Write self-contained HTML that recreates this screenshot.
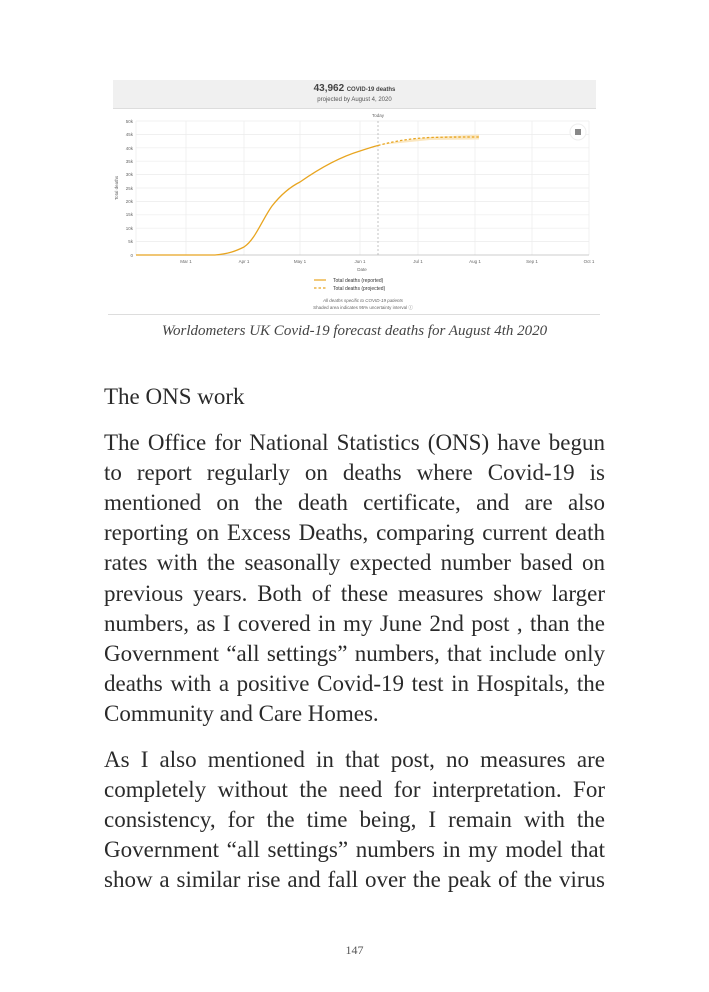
<!DOCTYPE html>
<html><head><meta charset="utf-8"><style>
body{margin:0;width:709px;height:992px;background:#fff;position:relative;overflow:hidden}
.t{position:absolute;left:104px;width:501px;font-family:"Liberation Serif","Times New Roman",serif;font-size:23px;color:#2a2a2a;line-height:30px;white-space:nowrap}
.j{text-align:justify;text-align-last:justify;white-space:normal}
.s{font-family:"Liberation Sans",sans-serif;position:absolute;white-space:nowrap}
</style></head><body>
<div style="position:absolute;left:113px;top:80px;width:483px;height:28px;background:#f0f0f0;border-bottom:1px solid #ddd"></div>
<div class="s" style="left:113px;width:483px;top:83px;text-align:center;font-size:9px;color:#444"><b style="font-size:10px">43,962</b> <b style="font-size:6px">COVID-19 deaths</b></div>
<div class="s" style="left:113px;width:483px;top:97px;text-align:center;font-size:6px;color:#555">projected by August 4, 2020</div>
<svg style="position:absolute;left:0;top:0" width="709" height="330">
<g stroke="#ececec" stroke-width="0.7">
<line x1="136" y1="121" x2="589" y2="121"/><line x1="136" y1="134.4" x2="589" y2="134.4"/><line x1="136" y1="147.8" x2="589" y2="147.8"/><line x1="136" y1="161.2" x2="589" y2="161.2"/><line x1="136" y1="174.6" x2="589" y2="174.6"/><line x1="136" y1="188" x2="589" y2="188"/><line x1="136" y1="201.4" x2="589" y2="201.4"/><line x1="136" y1="214.8" x2="589" y2="214.8"/><line x1="136" y1="228.2" x2="589" y2="228.2"/><line x1="136" y1="241.6" x2="589" y2="241.6"/>
<line x1="186" y1="121" x2="186" y2="255"/><line x1="244" y1="121" x2="244" y2="255"/><line x1="300" y1="121" x2="300" y2="255"/><line x1="360" y1="121" x2="360" y2="255"/><line x1="418" y1="121" x2="418" y2="255"/><line x1="475" y1="121" x2="475" y2="255"/><line x1="532" y1="121" x2="532" y2="255"/><line x1="589" y1="121" x2="589" y2="255"/><line x1="136" y1="121" x2="136" y2="255"/>
</g>
<line x1="136" y1="255" x2="589" y2="255" stroke="#bbb" stroke-width="0.8"/>
<line x1="378" y1="121" x2="378" y2="255" stroke="#aaa" stroke-width="0.7" stroke-dasharray="2,2"/>
<path d="M378 145 L400 141 L430 137 L479 134.5 L479 139.5 L430 140 L400 143 Z" fill="#fbe7c0"/>
<path d="M136 255 L215 255 C228 254 236 251 244 247 C255 240 262 220 272 206 C283 192 292 186 300 182 C320 168 340 157 360 151 C366 149 372 147 378 145.5" fill="none" stroke="#e8a520" stroke-width="1.3"/>
<path d="M378 145.5 C395 141 410 138.5 430 137.5 C450 137 465 137 479 137" fill="none" stroke="#e8a520" stroke-width="1.3" stroke-dasharray="2.5,2"/>
<circle cx="578" cy="132" r="8" fill="#fff" stroke="#eee"/><rect x="575" y="129" width="6" height="6" fill="#888"/>
<g font-family="Liberation Sans" font-size="4.5" fill="#666" text-anchor="end">
<text x="133" y="123">50k</text><text x="133" y="136">45k</text><text x="133" y="150">40k</text><text x="133" y="163">35k</text><text x="133" y="176">30k</text><text x="133" y="190">25k</text><text x="133" y="203">20k</text><text x="133" y="216">15k</text><text x="133" y="230">10k</text><text x="133" y="243">5k</text><text x="133" y="257">0</text>
</g>
<g font-family="Liberation Sans" font-size="4.5" fill="#666" text-anchor="middle">
<text x="186" y="263">Mar 1</text><text x="244" y="263">Apr 1</text><text x="300" y="263">May 1</text><text x="360" y="263">Jun 1</text><text x="418" y="263">Jul 1</text><text x="475" y="263">Aug 1</text><text x="532" y="263">Sep 1</text><text x="589" y="263">Oct 1</text>
<text x="362" y="271">Date</text><text x="378" y="117">Today</text>
<text x="363" y="302" font-style="italic">All deaths specific to COVID-19 patients</text>
<text x="363" y="309">Shaded area indicates 95% uncertainty interval ⓘ</text>
</g>
<text x="118" y="188" font-family="Liberation Sans" font-size="4.5" fill="#666" transform="rotate(-90 118 188)" text-anchor="middle">Total deaths</text>
<line x1="314" y1="280" x2="326" y2="280" stroke="#e8a520" stroke-width="1.2"/>
<line x1="314" y1="288" x2="326" y2="288" stroke="#e8a520" stroke-width="1.2" stroke-dasharray="2.5,2"/>
<g font-family="Liberation Sans" font-size="5" fill="#333"><text x="333" y="282">Total deaths (reported)</text><text x="333" y="290">Total deaths (projected)</text></g>
<line x1="108" y1="314.5" x2="600" y2="314.5" stroke="#ddd" stroke-width="1"/>
</svg>
<div style="position:absolute;left:0;width:709px;top:323px;text-align:center;font-family:'Liberation Serif','Times New Roman',serif;font-style:italic;font-size:15px;color:#444">Worldometers UK Covid-19 forecast deaths for August 4th 2020</div>
<div class="t" style="top:382px">The ONS work</div>
<div class="t j" style="top:428px">The Office for National Statistics (ONS) have begun</div>
<div class="t j" style="top:458px">to report regularly on deaths where Covid-19 is</div>
<div class="t j" style="top:488px">mentioned on the death certificate, and are also</div>
<div class="t j" style="top:518px">reporting on Excess Deaths, comparing current death</div>
<div class="t j" style="top:548px">rates with the seasonally expected number based on</div>
<div class="t j" style="top:579px">previous years. Both of these measures show larger</div>
<div class="t j" style="top:609px">numbers, as I covered in my June 2nd post , than the</div>
<div class="t j" style="top:639px">Government “all settings” numbers, that include only</div>
<div class="t j" style="top:669px">deaths with a positive Covid-19 test in Hospitals, the</div>
<div class="t" style="top:699px">Community and Care Homes.</div>
<div class="t j" style="top:745px">As I also mentioned in that post, no measures are</div>
<div class="t j" style="top:775px">completely without the need for interpretation. For</div>
<div class="t j" style="top:805px">consistency, for the time being, I remain with the</div>
<div class="t j" style="top:835px">Government “all settings” numbers in my model that</div>
<div class="t j" style="top:865px">show a similar rise and fall over the peak of the virus</div>
<div style="position:absolute;left:0;width:709px;top:943px;text-align:center;font-family:'Liberation Serif',serif;font-size:12px;color:#555">147</div>
</body></html>
